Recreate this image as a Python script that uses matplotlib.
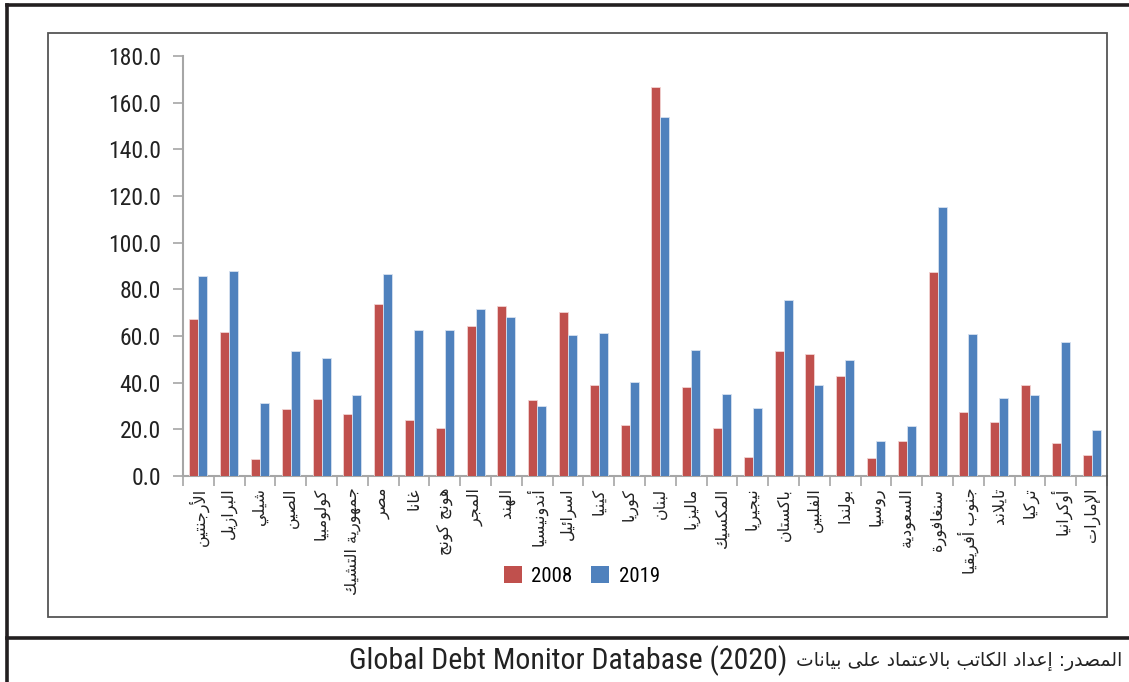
import matplotlib
matplotlib.use("Agg")
import matplotlib.pyplot as plt
from matplotlib import font_manager as fm
from matplotlib.lines import Line2D
from matplotlib.patches import Rectangle, Patch
import numpy as np

countries = ["الأرجنتين", "البرازيل", "شيلي", "الصين", "كولومبيا", "جمهورية التشيك",
             "مصر", "غانا", "هونج كونج", "المجر", "الهند", "أندونيسيا", "اسرائيل",
             "كينيا", "كوريا", "لبنان", "ماليزيا", "المكسيك", "نيجيريا", "باكستان",
             "الفلبين", "بولندا", "روسيا", "السعودية", "سنغافورة", "جنوب أفريقيا",
             "تايلاند", "تركيا", "أوكرانيا", "الإمارات"]
values_2008 = [67.3, 61.7, 7.3, 28.7, 33.0, 26.6, 73.7, 24.0, 20.6, 64.3, 72.9, 32.6, 70.3,
               39.0, 21.9, 166.7, 38.1, 20.6, 8.1, 53.6, 52.3, 42.9, 7.7, 15.0, 87.4, 27.4,
               23.1, 39.0, 14.1, 9.0]
values_2019 = [85.7, 87.9, 31.3, 53.6, 50.6, 34.7, 86.6, 62.6, 62.6, 71.6, 68.1, 30.0, 60.4,
               61.3, 40.3, 153.9, 54.0, 35.1, 29.1, 75.4, 39.0, 49.7, 15.0, 21.4, 115.3, 60.9,
               33.4, 34.7, 57.4, 19.7]
series_labels = ["2008", "2019"]
yticks = [0, 20, 40, 60, 80, 100, 120, 140, 160, 180]
source_ar = "المصدر: إعداد الكاتب بالاعتماد على بيانات"
source_en = "Global Debt Monitor Database (2020)"

# ---------- minimal Arabic shaping (presentation forms) + RTL ----------
FOUR = {0x0626: 0xFE89, 0x0628: 0xFE8F, 0x062A: 0xFE95, 0x062B: 0xFE99, 0x062C: 0xFE9D,
        0x062D: 0xFEA1, 0x062E: 0xFEA5, 0x0633: 0xFEB1, 0x0634: 0xFEB5, 0x0635: 0xFEB9,
        0x0636: 0xFEBD, 0x0637: 0xFEC1, 0x0638: 0xFEC5, 0x0639: 0xFEC9, 0x063A: 0xFECD,
        0x0641: 0xFED1, 0x0642: 0xFED5, 0x0643: 0xFED9, 0x0644: 0xFEDD, 0x0645: 0xFEE1,
        0x0646: 0xFEE5, 0x0647: 0xFEE9, 0x064A: 0xFEF1}
TWO = {0x0622: 0xFE81, 0x0623: 0xFE83, 0x0624: 0xFE85, 0x0625: 0xFE87, 0x0627: 0xFE8D,
       0x0629: 0xFE93, 0x062F: 0xFEA9, 0x0630: 0xFEAB, 0x0631: 0xFEAD, 0x0632: 0xFEAF,
       0x0648: 0xFEED, 0x0649: 0xFEEF}
ONE = {0x0621: 0xFE80}
LAMALEF = {0x0622: 0xFEF5, 0x0623: 0xFEF7, 0x0625: 0xFEF9, 0x0627: 0xFEFB}


def is_ar(c):
    o = ord(c)
    return o in FOUR or o in TWO or o in ONE


def shape(text):
    chars = list(text)
    merged = []
    i = 0
    while i < len(chars):
        c = chars[i]
        if ord(c) == 0x0644 and i + 1 < len(chars) and ord(chars[i + 1]) in LAMALEF:
            merged.append(("LA", ord(chars[i + 1])))
            i += 2
        else:
            merged.append(("C", c))
            i += 1

    def joins_left(item):
        k, v = item
        if k == "LA":
            return False
        return ord(v) in FOUR

    def arabic(item):
        k, v = item
        return k == "LA" or is_ar(v)

    out = []
    for idx, item in enumerate(merged):
        prev = merged[idx - 1] if idx > 0 else None
        nxt = merged[idx + 1] if idx + 1 < len(merged) else None
        jp = prev is not None and arabic(prev) and joins_left(prev)
        k, v = item
        if k == "LA":
            out.append(chr(LAMALEF[v] + (1 if jp else 0)))
            continue
        o = ord(v)
        if o in FOUR:
            jn = nxt is not None and arabic(nxt)
            b = FOUR[o]
            if jp and jn:
                out.append(chr(b + 3))
            elif jp:
                out.append(chr(b + 1))
            elif jn:
                out.append(chr(b + 2))
            else:
                out.append(chr(b))
        elif o in TWO:
            out.append(chr(TWO[o] + (1 if jp else 0)))
        elif o in ONE:
            out.append(chr(ONE[o]))
        else:
            out.append(v)
    return "".join(out)[::-1]


# pick a condensed font for numbers / latin text
avail = {f.name for f in fm.fontManager.ttflist}
NARROW_NAME = None
for cand in ["Liberation Sans Narrow", "Roboto Condensed", "Open Sans Condensed",
             "DejaVu Sans Condensed"]:
    if cand in avail:
        NARROW_NAME = cand
        break
if NARROW_NAME is None:
    NARROW = dict(family=["DejaVu Sans"], stretch="condensed")
else:
    NARROW = dict(family=[NARROW_NAME, "DejaVu Sans"])

W, H = 1129, 682
fig = plt.figure(figsize=(W / 100, H / 100), dpi=100)
fig.patch.set_facecolor("white")
AR = ["DejaVu Sans"]


def fx(px):
    return px / W


def fy(py):
    return 1 - py / H


ax = fig.add_axes([fx(183), fy(476), fx(1107) - fx(183), fy(56) - fy(476)])
x = np.arange(len(countries))
bw = 0.29
c_red = "#C0504D"
c_blue = "#4F81BD"
ax.bar(x - bw / 2, values_2008, width=bw, color=c_red, edgecolor="#F2D3D2", linewidth=0.6,
       label=series_labels[0], zorder=3)
ax.bar(x + bw / 2, values_2019, width=bw, color=c_blue, edgecolor="#D6E1F0", linewidth=0.6,
       label=series_labels[1], zorder=3)

ax.set_xlim(-0.5, len(countries) - 0.5)
ax.set_ylim(0, 180)
ax.set_yticks(yticks)
ax.set_yticklabels([f"{v:.1f}" for v in yticks], fontsize=17, color="#222222", **NARROW)
ax.tick_params(axis="y", direction="out", length=7, width=1.2, color="#A6A6A6", pad=9)

ax.set_xticks(np.arange(len(countries) + 1) - 0.5)
ax.set_xticklabels([])
ax.tick_params(axis="x", direction="out", length=7, width=1.2, color="#A6A6A6")
for i, name in enumerate(countries):
    ax.text(i, -5, shape(name), rotation=90, ha="center", va="top", fontfamily=AR,
            fontsize=11.5, color="#222222", transform=ax.transData, clip_on=False)

for s in ["top", "right"]:
    ax.spines[s].set_visible(False)
for s in ["left", "bottom"]:
    ax.spines[s].set_color("#A6A6A6")
    ax.spines[s].set_linewidth(1.5)

handles = [Patch(facecolor=c_red, edgecolor="none"), Patch(facecolor=c_blue, edgecolor="none")]
prop = dict(size=15)
if "stretch" in NARROW:
    prop["stretch"] = "condensed"
prop["family"] = NARROW["family"]
fig.legend(handles, series_labels, loc="center", bbox_to_anchor=(fx(582), fy(576)), ncol=2,
           frameon=False, prop=prop, handlelength=0.85, handleheight=0.85,
           columnspacing=0.9, handletextpad=0.45)

fig.add_artist(Line2D([fx(7), 1], [fy(5), fy(5)], color="#231F20", lw=2.6))
fig.add_artist(Line2D([fx(7), fx(7)], [fy(5), 0], color="#231F20", lw=2.6))
fig.add_artist(Line2D([fx(7), 1], [fy(638), fy(638)], color="#231F20", lw=2.6))
fig.add_artist(Rectangle((fx(48), fy(617)), fx(1107) - fx(48), fy(33) - fy(617), fill=False,
                         edgecolor="#555555", lw=1.3, transform=fig.transFigure))

t_ar = fig.text(fx(1122), fy(661), shape(source_ar), ha="right", va="center",
                fontfamily=AR, fontsize=13.5, color="#222222")
fig.canvas.draw()
bb = t_ar.get_window_extent()
fig.text(bb.x0 / W - fx(8), fy(661), source_en, ha="right", va="center",
         fontsize=21.5, color="#222222", **NARROW)

fig.savefig("out.png", dpi=100)
